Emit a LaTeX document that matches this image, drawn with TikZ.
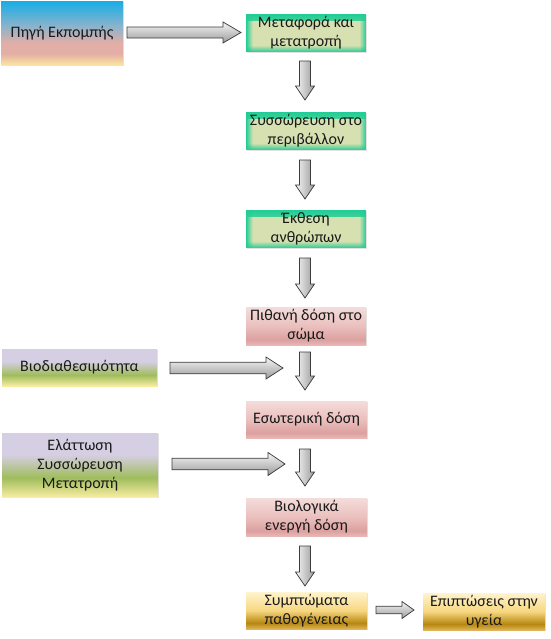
\documentclass[tikz,border=0pt]{standalone}
\usepackage{fontspec}
\setmainfont{Carlito}
\usetikzlibrary{fadings,shadows}
\definecolor{srcB}{HTML}{17ADE6}
\definecolor{srcM}{HTML}{8DB3CB}
\definecolor{srcP}{HTML}{E3AEA6}
\definecolor{srcY}{HTML}{FCE59E}
\definecolor{lvT}{HTML}{D6CEE2}
\definecolor{lvG}{HTML}{9FBD5C}
\definecolor{lvY}{HTML}{F8EDA2}
\definecolor{pkT}{HTML}{F4DCDA}
\definecolor{pkM}{HTML}{EAC0BE}
\definecolor{pkD}{HTML}{DCA0A0}
\definecolor{pkB}{HTML}{E8B8B6}
\definecolor{gdT}{HTML}{FFF4CE}
\definecolor{gdM}{HTML}{F7D780}
\definecolor{gdD}{HTML}{B7870F}
\definecolor{gdB}{HTML}{DDB55A}
\definecolor{grO}{HTML}{22CD95}
\definecolor{grI}{HTML}{D6E0B0}
\definecolor{txt}{HTML}{1A1A1A}
\definecolor{arO}{HTML}{3C3C3C}
\definecolor{arL}{HTML}{F6F6F6}
\definecolor{arD}{HTML}{9A9A9A}
\pgfdeclareverticalshading{srcsh}{100bp}{color(0bp)=(srcY); color(25bp)=(srcY); color(34bp)=(srcP); color(42bp)=(srcP); color(55bp)=(srcM); color(75bp)=(srcB); color(100bp)=(srcB)}
\pgfdeclareverticalshading{lvsh}{100bp}{color(0bp)=(lvY); color(25bp)=(lvY); color(40bp)=(lvG); color(58bp)=(lvT); color(75bp)=(lvT); color(100bp)=(lvT)}
\pgfdeclareverticalshading{pksh}{100bp}{color(0bp)=(pkB); color(25bp)=(pkB); color(32bp)=(pkD); color(50bp)=(pkM); color(75bp)=(pkT); color(100bp)=(pkT)}
\pgfdeclareverticalshading{gdsh}{100bp}{color(0bp)=(gdB); color(25bp)=(gdB); color(33bp)=(gdD); color(50bp)=(gdM); color(75bp)=(gdT); color(100bp)=(gdT)}
\tikzfading[name=fTop, top color=transparent!0, bottom color=transparent!100]
\tikzfading[name=fBot, top color=transparent!100, bottom color=transparent!0]
\tikzfading[name=fLft, left color=transparent!0, right color=transparent!100]
\tikzfading[name=fRgt, left color=transparent!100, right color=transparent!0]
\tikzset{
  box/.style={inner sep=0pt, align=center, text=txt,
    font=\fontsize{12}{14.2}\selectfont,
    drop shadow={shadow xshift=0.8pt, shadow yshift=-0.8pt, opacity=0.25, fill=black!45}},
  srcbox/.style={box, shading=srcsh},
  lvbox/.style={box, shading=lvsh},
  pkbox/.style={box, shading=pksh},
  gdbox/.style={box, shading=gdsh},
  grbox/.style={box, fill=grI, path picture={
    \fill[grO, path fading=fTop] (path picture bounding box.north west) rectangle ([yshift=-5pt]path picture bounding box.north east);
    \fill[grO, path fading=fBot] (path picture bounding box.south west) rectangle ([yshift=5pt]path picture bounding box.south east);
    \fill[grO, path fading=fLft] (path picture bounding box.south west) rectangle ([xshift=5pt]path picture bounding box.north west);
    \fill[grO, path fading=fRgt] (path picture bounding box.south east) rectangle ([xshift=-5pt]path picture bounding box.north east);
  }},
  harr/.style={draw=arO, line width=0.55pt, line join=miter, top color=arL, bottom color=arD},
  varr/.style={draw=arO, line width=0.55pt, line join=miter, left color=arL, right color=arD}
}
% box: name, style, x1, y1, x2, y2, text
\newcommand\bx[7]{\node[#2, minimum width={(#5-#3)*0.75}, minimum height={(#6-#4)*0.75}] (#1) at ({(#3+#5)/2},{(#4+#6)/2}) {#7};}
% horizontal block arrow: x1, x2, yc, shaft half, head half, head length
\newcommand\hblk[6]{\path[harr] (#1,#3-#4) -- (#2-#6,#3-#4) -- (#2-#6,#3-#5) -- (#2,#3) -- (#2-#6,#3+#5) -- (#2-#6,#3+#4) -- (#1,#3+#4) -- cycle;}
% vertical block arrow: xc, ytop, ytip
\newcommand\vblk[3]{\path[varr] (#1-5.5,#2) -- (#1+5.5,#2) -- (#1+5.5,#3-14) -- (#1+9.5,#3-14) -- (#1,#3) -- (#1-9.5,#3-14) -- (#1-5.5,#3-14) -- cycle;}
\begin{document}
\begin{tikzpicture}[x=0.75pt, y=-0.75pt]
\useasboundingbox (0,0) rectangle (550,639);
\bx{src}{srcbox}{1}{1}{123}{65}{Πηγή Εκπομπής}
\bx{b1}{grbox}{246}{14}{366}{52}{Μεταφορά και\\μετατροπή}
\bx{b2}{grbox}{246}{112}{366}{150}{Συσσώρευση στο\\περιβάλλον}
\bx{b3}{grbox}{246}{210}{366}{248}{Έκθεση\\ανθρώπων}
\bx{b4}{pkbox}{246}{307}{366}{345}{Πιθανή δόση στο\\σώμα}
\bx{b5}{pkbox}{246}{401}{367}{438}{Εσωτερική δόση}
\bx{b6}{pkbox}{246}{498}{367}{536}{Βιολογικά\\ενεργή δόση}
\bx{b7}{gdbox}{246}{592}{367}{629}{Συμπτώματα\\παθογένειας}
\bx{b8}{gdbox}{423}{593}{545}{630}{Επιπτώσεις στην\\υγεία}
\bx{l1}{lvbox}{2}{349}{157}{386}{Βιοδιαθεσιμότητα}
\bx{l2}{lvbox}{2}{433}{158}{497}{Ελάττωση\\Συσσώρευση\\Μετατροπή}
\hblk{127}{241}{32.5}{5.5}{10.5}{18}
\hblk{170}{283}{368}{5.8}{11}{17}
\hblk{172}{285}{464}{5.8}{11.5}{17}
\hblk{376}{414}{610}{3.8}{8.5}{12}
\vblk{305}{61}{100}
\vblk{305}{160}{199}
\vblk{305}{258}{298}
\vblk{305}{352}{390}
\vblk{305}{449}{486}
\vblk{305}{546}{586}
\end{tikzpicture}
\end{document}
